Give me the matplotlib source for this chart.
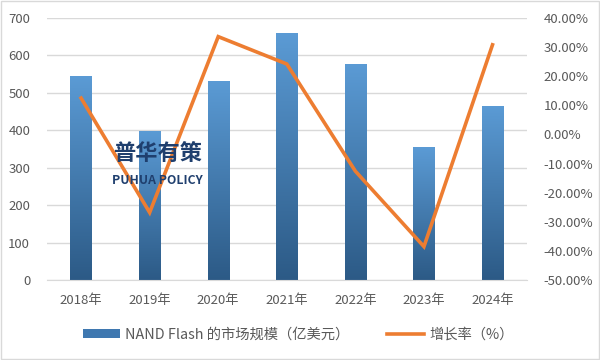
import matplotlib
matplotlib.use("Agg")
import matplotlib.pyplot as plt
import numpy as np
from matplotlib.colors import LinearSegmentedColormap
from matplotlib.lines import Line2D
from matplotlib.patches import Patch, Rectangle

plt.rcParams['font.family'] = ['Noto Sans CJK SC', 'DejaVu Sans']

years = ["2018年", "2019年", "2020年", "2021年", "2022年", "2023年", "2024年"]
market_size = [545, 398, 532, 660, 577, 355, 465]
growth_rate = [12.5, -26.8, 33.6, 24.2, -12.6, -38.5, 30.8]
left_ticks = [0, 100, 200, 300, 400, 500, 600, 700]
right_ticks = [-50, -40, -30, -20, -10, 0, 10, 20, 30, 40]

bar_name = "NAND Flash 的市场规模（亿美元）"
line_name = "增长率（%）"

txt = "#595959"
orange = "#ED7D31"

fig = plt.figure(figsize=(6, 3.6), dpi=100)
fig.patches.append(Rectangle((0.002, 0.002), 0.996, 0.996, transform=fig.transFigure,
                             fill=False, edgecolor="#D9D9D9", linewidth=1))
ax = fig.add_axes([0.078, 0.222, 0.80, 0.728])
x = np.arange(len(years))
bars = ax.bar(x, market_size, width=0.31, color="#4A86C5", zorder=2)

cmap = LinearSegmentedColormap.from_list("g", ["#2C5A86", "#5B9BD5"])
grad = np.linspace(0, 1, 256).reshape(-1, 1)
for b in bars:
    bx, by = b.get_x(), b.get_y()
    w, h = b.get_width(), b.get_height()
    im = ax.imshow(grad, cmap=cmap, extent=[bx, bx + w, by, by + h], origin="lower",
                   aspect="auto", zorder=2.5)
    im.set_clip_path(b)

ax.set_xlim(-0.5, len(years) - 0.5)
ax.set_ylim(0, 700)
ax.set_yticks(left_ticks)
ax.set_xticks(x)
ax.set_xticklabels(years)
ax.grid(axis="y", color="#D9D9D9", linewidth=1, zorder=0)
ax.set_axisbelow(True)
for s in ["top", "right", "left"]:
    ax.spines[s].set_visible(False)
ax.spines["bottom"].set_color("#D9D9D9")
ax.tick_params(axis="both", length=0, colors=txt, labelsize=9.5)
ax.tick_params(axis="x", pad=10)
ax.tick_params(axis="y", pad=12)

ax2 = ax.twinx()
ax2.plot(x, growth_rate, color=orange, linewidth=2.6, zorder=3, solid_joinstyle="miter")
ax2.set_ylim(-50, 40)
ax2.set_yticks(right_ticks)
ax2.set_yticklabels([f"{v:.2f}%" for v in right_ticks])
for s in ["top", "right", "left", "bottom"]:
    ax2.spines[s].set_visible(False)
ax2.tick_params(axis="y", length=0, colors=txt, labelsize=9.5, pad=12)
ax2.set_xlim(-0.5, len(years) - 0.5)

fig.text(0.262, 0.574, "普华有策", fontsize=16, fontweight="bold", color="#1F3F6E",
         ha="center", va="center", zorder=10)
fig.text(0.262, 0.50, "PUHUA POLICY", fontsize=8.8, fontweight="bold", color="#1F3F6E",
         ha="center", va="center", zorder=10)

handles = [Patch(facecolor="#3F78B0", edgecolor="none"),
           Line2D([0], [0], color=orange, linewidth=2.6)]
fig.legend(handles, [bar_name, line_name], loc="center", bbox_to_anchor=(0.497, 0.07),
           ncol=2, frameon=False, fontsize=10.3, labelcolor=txt, handlelength=2.6,
           handleheight=0.55, columnspacing=2.6, handletextpad=0.35)

fig.savefig("out.png", dpi=100)
